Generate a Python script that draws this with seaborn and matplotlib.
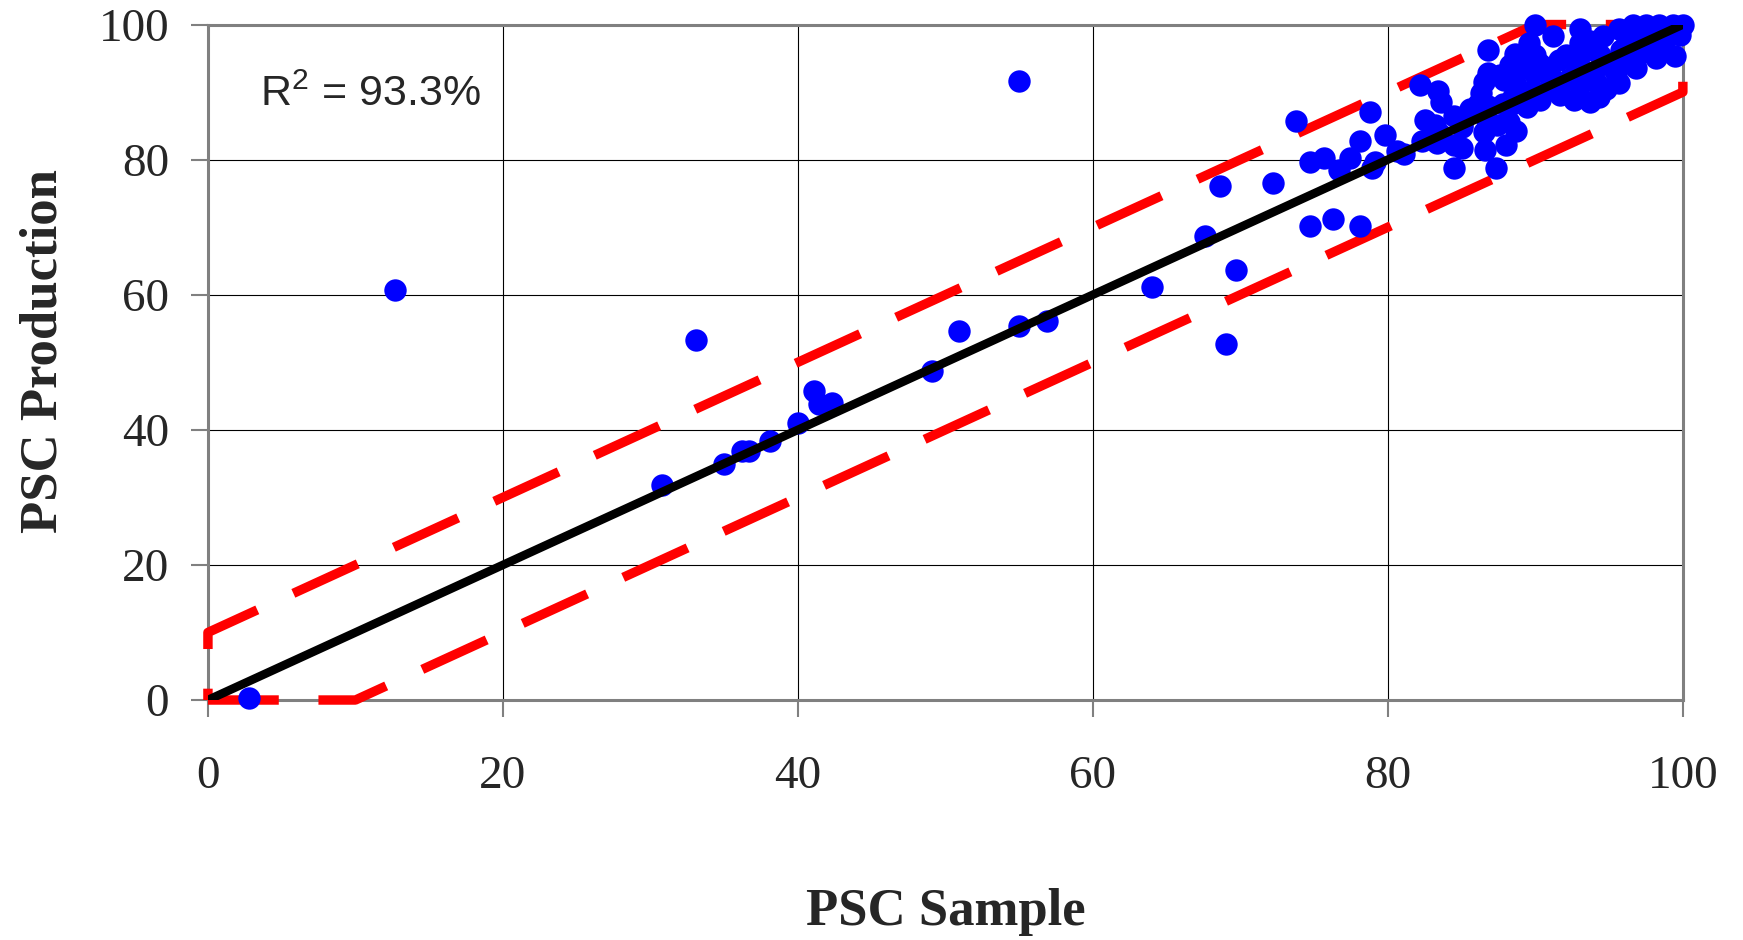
import matplotlib
matplotlib.use("Agg")
import matplotlib.pyplot as plt
import numpy as np
import pandas as pd
import seaborn as sns

# PSC sample (x) vs PSC production (y)
psc_sample = [
    2.8, 12.7, 30.8, 33.1, 35.0, 36.2, 36.7, 38.1, 40.0, 41.1, 41.4, 42.3,
    49.1, 50.9, 55.0, 55.0, 56.9, 64.0, 67.6, 68.6, 69.0, 69.7, 72.2, 73.8,
    74.7, 75.7, 74.7, 76.3, 76.7, 77.4, 78.1, 78.1, 78.8, 78.9, 79.1, 79.8,
    80.6, 81.1,
    82.2, 83.4, 83.6, 82.5, 83.2, 84.5, 85.0, 82.3, 83.3, 84.5, 85.0, 84.5,
    86.6, 87.3, 88.0, 88.7, 86.5, 87.4, 88.2, 86.7, 86.3, 86.1, 86.8, 87.6,
    88.3, 88.5, 89.4, 90.3, 89.8, 91.0, 86.8, 86.5, 87.9, 87.8, 85.6, 86.8,
    88.6, 88.4,
    88.6, 89.6, 90.0, 90.3, 89.2, 90.0, 91.2, 93.0, 89.9, 93.7, 94.6, 95.7,
    96.6, 97.5, 98.4, 99.3, 100.0, 98.2, 99.5, 97.3, 96.2, 92.1, 93.2, 94.4,
    95.0, 91.7, 92.6, 93.7, 94.8, 95.7, 95.5, 91.0, 92.3, 93.5, 93.0, 94.1,
    98.7, 99.8, 91.6, 93.0, 96.2, 97.1, 98.0, 96.8, 94.3,
    89.0, 91.5, 94.5, 97.0, 99.0, 92.8, 95.8, 85.0, 83.5,
]
psc_production = [
    0.3, 60.7, 31.9, 53.3, 34.9, 36.8, 36.8, 38.3, 41.0, 45.7, 43.8, 43.9,
    48.7, 54.6, 91.6, 55.3, 56.1, 61.2, 68.7, 76.1, 52.7, 63.7, 76.6, 85.7,
    79.7, 80.2, 70.2, 71.2, 78.4, 80.2, 82.8, 70.2, 87.1, 78.7, 79.7, 83.6,
    81.3, 80.8,
    91.1, 90.2, 88.5, 85.8, 85.2, 86.4, 85.3, 82.7, 82.4, 82.2, 81.7, 78.8,
    81.4, 78.8, 82.2, 84.2, 84.1, 85.1, 85.6, 85.9, 89.8, 88.3, 92.8, 92.6,
    94.0, 89.3, 87.8, 88.8, 90.3, 90.8, 96.2, 91.5, 91.8, 88.3, 87.5, 88.0,
    91.4, 88.2,
    95.7, 97.2, 95.5, 94.2, 93.8, 100.0, 98.3, 99.3, 92.8, 97.5, 98.3, 99.4,
    100.0, 100.0, 100.0, 100.0, 100.0, 95.0, 95.3, 96.0, 94.5, 95.5, 96.0, 95.5,
    94.0, 89.6, 88.8, 88.6, 90.5, 91.3, 92.8, 92.5, 92.0, 93.0, 91.0, 91.5,
    96.7, 98.4, 94.7, 97.2, 97.7, 98.6, 97.2, 93.5, 89.3,
    89.2, 91.3, 94.3, 97.0, 99.0, 93.6, 96.2, 84.8, 83.8,
]

# +/-10 band edges and the 1:1 line
upper_x = [0, 0, 90, 100]
upper_y = [0, 10, 100, 100]
lower_x = [0, 10, 100, 100]
lower_y = [0, 0, 90, 100]
diag = [0, 100]
ticks = [0, 20, 40, 60, 80, 100]
r2_text = "R$^\\mathregular{2}$ = 93.3%"

sns.set_theme(style="white")
plt.rcParams["font.family"] = ["Liberation Serif", "DejaVu Serif"]
plt.rcParams["mathtext.fontset"] = "custom"
plt.rcParams["mathtext.rm"] = "Liberation Sans"

df = pd.DataFrame({"sample": psc_sample, "production": psc_production})

fig = plt.figure(figsize=(17.43, 9.40), dpi=100)
ax = fig.add_axes([0.1193, 0.2553, 0.8462, 0.7186])

band_kw = dict(color="#ff0000", lw=6.8, dash_capstyle="butt",
               solid_capstyle="butt", zorder=2, clip_on=False)
ax.plot(upper_x, upper_y, linestyle=(6.3, (7.5, 4.2)), **band_kw)
ax.plot(lower_x, lower_y, linestyle=(0, (7.5, 4.2)), **band_kw)
sns.scatterplot(data=df, x="sample", y="production", ax=ax, color="#0000ff",
                s=260, linewidth=0, zorder=3, clip_on=False, legend=False)
ax.plot(diag, diag, color="black", lw=6.2, solid_capstyle="round", zorder=4)

ax.set_xlim(0, 100)
ax.set_ylim(0, 100)
ax.set_xticks(ticks)
ax.set_yticks(ticks)
ax.grid(True, color="black", lw=0.8, zorder=0)
ax.set_axisbelow(True)
for sp in ax.spines.values():
    sp.set_color("#808080")
    sp.set_linewidth(2.2)
    sp.set_zorder(1)

ax.tick_params(axis="both", which="major", direction="out", length=12,
               width=1.5, color="#808080", labelsize=34, left=True, bottom=True)
ax.tick_params(axis="x", pad=28)
ax.tick_params(axis="y", pad=16)

ax.text(3.5, 87.9, r2_text, fontsize=31, family="Liberation Sans",
        ha="left", va="baseline", zorder=5)

ax.set_xlabel("PSC Sample", fontsize=38, fontweight="bold")
ax.set_ylabel("PSC Production", fontsize=38, fontweight="bold")
ax.xaxis.label.set_va("baseline")
ax.xaxis.set_label_coords(0.5, -0.333)
ax.yaxis.label.set_va("baseline")
ax.yaxis.set_label_coords(-0.103, 0.517)

fig.savefig("out.png", dpi=100)
plt.close(fig)
